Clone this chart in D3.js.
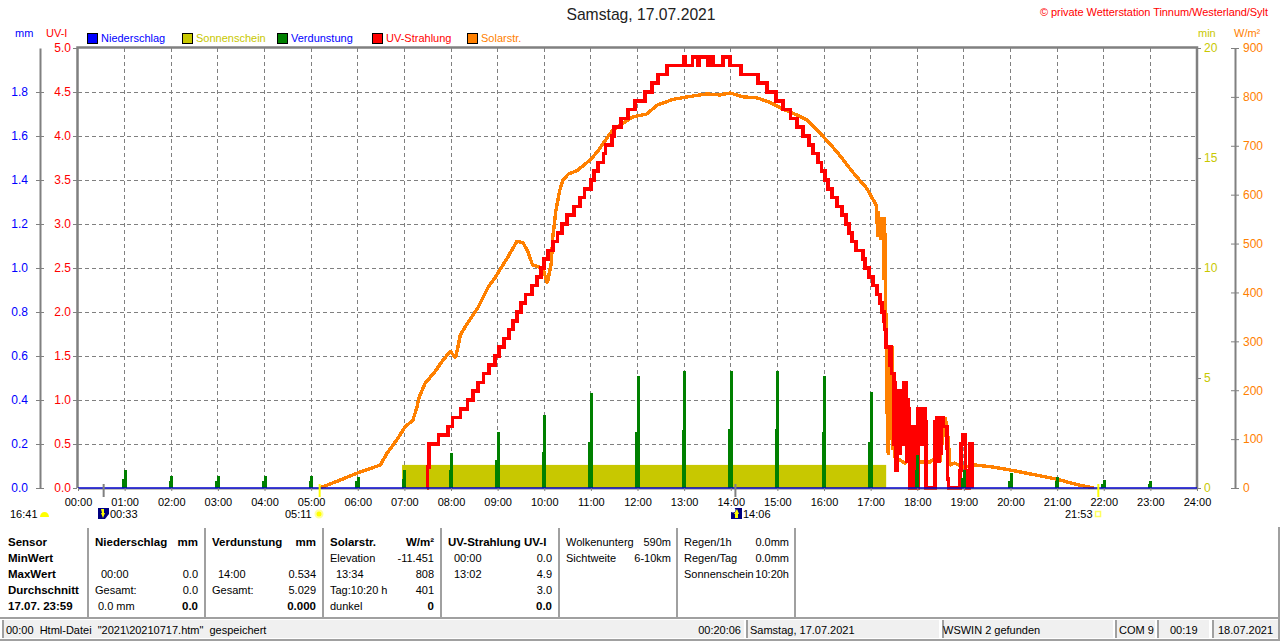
<!DOCTYPE html>
<html>
<head>
<meta charset="utf-8">
<script src="https://cdn.jsdelivr.net/npm/d3@7"></script>
<style>
    html, body { margin: 0; padding: 0; background: #fff; overflow: hidden; }
    svg { display: block; }
    text { font-family: "Liberation Sans", Arial, sans-serif; font-size: 11px; }
    .bold { font-weight: bold; font-size: 11.5px; }
    .domain { stroke-width: 2px; }
</style>
</head>
<body>
<div id="chart"></div>
<script>
// all times are minutes since midnight
const hourTicks = d3.range(0, 1441, 60);
const mmTicks = [0, 0.2, 0.4, 0.6, 0.8, 1.0, 1.2, 1.4, 1.6, 1.8];
const uvTicks = [0, 0.5, 1, 1.5, 2, 2.5, 3, 3.5, 4, 4.5, 5];
const minTicks = [0, 5, 10, 15, 20];
const solarTicks = [0, 100, 200, 300, 400, 500, 600, 700, 800, 900];

const solarTimes = [311, 337, 360, 389, 398, 410, 421, 431, 436, 439, 447, 459, 468, 479, 486, 492, 502, 515, 528, 537,
    553, 565, 573, 579, 585, 598, 604, 609, 611, 615, 620, 624, 631, 643, 659, 668, 688, 714, 732, 745,
    766, 784, 809, 826, 839, 856, 874, 890, 907, 925, 938, 955, 977, 997, 1015, 1027, 1028, 1029, 1030, 1031,
    1032, 1033, 1034, 1035, 1036, 1037, 1038, 1039, 1040, 1041, 1042, 1043, 1044, 1045, 1046, 1047, 1048, 1049, 1050, 1051,
    1053, 1058, 1064, 1077, 1083, 1096, 1103, 1109, 1116, 1120, 1122,
    1128, 1139, 1154, 1177, 1199, 1212, 1260, 1283, 1307];
const solarValues = [0, 16, 31, 47, 72, 98, 125, 139, 164, 186, 215, 237, 258, 280, 266, 313, 339, 370, 411, 431,
    472, 505, 501, 483, 456, 450, 419, 460, 513, 568, 609, 630, 642, 650, 671, 687, 732, 759, 765, 783,
    795, 800, 806, 804, 808, 800, 798, 789, 775, 763, 753, 726, 687, 646, 613, 579, 566, 513, 566, 513,
    554, 507, 554, 507, 554, 425, 554, 425, 303, 190, 80, 68, 288, 98, 288, 98, 290, 78, 150, 63,
    63, 57, 51, 63, 53, 53, 61, 53, 145, 98, 47,
    51, 43, 47, 43, 37, 33, 18, 8, 0];

const uvTimes = [449, 450, 452, 464, 476, 482, 492, 501, 508, 515, 522, 529, 537, 542, 548, 555, 560, 565, 570, 576, 584,
    591, 596, 600, 605, 611, 617, 623, 629, 638, 646, 652, 660, 664, 669, 676, 679, 687, 690, 699, 708,
    717, 730, 739, 746, 758, 780, 782, 791, 798, 800, 811, 813, 817, 830, 839, 853, 875, 887, 898, 907,
    917, 925, 933, 941, 946, 952, 957, 961, 965, 970, 977, 983, 988, 992, 996, 1001, 1010, 1013, 1018, 1023,
    1028, 1032, 1035, 1037, 1038, 1040, 1043, 1045, 1046, 1047, 1050, 1051, 1052, 1053, 1054, 1055, 1056, 1057, 1058, 1059,
    1060, 1061, 1062, 1063, 1064, 1065, 1066, 1067, 1068, 1069, 1070, 1072, 1073, 1076, 1081, 1082, 1083, 1084, 1085, 1086,
    1087, 1088, 1089, 1090, 1091, 1103, 1105, 1107, 1108, 1110, 1111, 1114, 1118, 1119, 1120, 1135, 1136, 1138, 1142, 1143,
    1147, 1151];
const uvValues = [0, 0.24, 0.5, 0.6, 0.7, 0.8, 0.9, 1.0, 1.1, 1.2, 1.3, 1.4, 1.5, 1.6, 1.7, 1.8, 1.9, 2.0, 2.1, 2.2, 2.3,
    2.4, 2.5, 2.6, 2.7, 2.8, 2.9, 3.0, 3.1, 3.2, 3.3, 3.4, 3.5, 3.6, 3.7, 3.8, 3.9, 4.0, 4.1, 4.2, 4.3,
    4.4, 4.5, 4.6, 4.7, 4.8, 4.9, 4.8, 4.9, 4.8, 4.9, 4.8, 4.9, 4.8, 4.9, 4.8, 4.7, 4.6, 4.5, 4.4, 4.3,
    4.2, 4.1, 4.0, 3.9, 3.8, 3.7, 3.6, 3.5, 3.4, 3.3, 3.2, 3.1, 3.0, 2.9, 2.8, 2.7, 2.6, 2.5, 2.4, 2.3,
    2.2, 2.1, 2.0, 1.9, 1.8, 1.6, 1.6, 1.4, 1.6, 1.3, 0.5, 1.2, 0.5, 0.2, 1.1, 0.6, 1.1, 0.4, 1.1, 0.6,
    1.1, 0.5, 1.1, 1.2, 0.7, 1.2, 0.3, 1.0, 0.9, 0.5, 0, 0.4, 0.7, 0, 0.9, 0.5, 0.9, 0.6, 0.9, 0.5,
    0.9, 0.6, 0.9, 0.75, 0, 0.75, 0.8, 0.3, 0.8, 0.4, 0.8, 0.7, 0.45, 0.1, 0, 0.2, 0.5, 0.6, 0.2, 0,
    0.5, 0];

const evapHours = d3.range(60, 1381, 60);
const evapTop = [0.082, 0.055, 0.055, 0.055, 0.055, 0.05, 0.08, 0.16, 0.255, 0.33, 0.43, 0.51, 0.534, 0.534, 0.53, 0.51, 0.435, 0.15, 0.08, 0.07, 0.05, 0.035, 0.03];
const evapLow = [0.04, 0.03, 0.03, 0.03, 0.03, 0.03, 0.04, 0.08, 0.127, 0.164, 0.21, 0.255, 0.265, 0.267, 0.267, 0.255, 0.21, 0.08, 0.045, 0.03, 0.03, 0.02, 0.02];

const sunshineFrom = 417;
const sunshineTo = 1040;
const sunshineMinutes = 1.05;

const legendNames = ["Niederschlag", "Sonnenschein", "Verdunstung", "UV-Strahlung", "Solarstr."];
const legendColors = ["#0000ff", "#c8c800", "#008000", "#ff0000", "#ff8000"];
const legendTextColors = ["#0000ff", "#c8c800", "#0000ff", "#ff0000", "#ff8000"];
const legendX = [87, 182, 277, 372, 467];

const gray = "#808080";
const width = 1280, height = 641;
const left = 78, right = 1197, top_ = 48, bottom = 488;

const x = d3.scaleLinear().domain([0, 1440]).range([left, right]);
const yUv = d3.scaleLinear().domain([0, 5]).range([bottom, top_]);
const yMm = d3.scaleLinear().domain([0, 2]).range([bottom, top_]);
const yMin = d3.scaleLinear().domain([0, 20]).range([bottom, top_]);
const ySolar = d3.scaleLinear().domain([0, 900]).range([bottom, top_]);

const svg = d3.select("#chart").append("svg").attr("width", width).attr("height", height);

function label(txt, px, py, color, anchor, cls) {
    return svg.append("text")
        .attr("x", px).attr("y", py)
        .attr("dy", "0.35em")
        .attr("fill", color || "#000")
        .attr("text-anchor", anchor || "start")
        .attr("class", cls || null)
        .text(txt);
}

// grid
svg.append("g").selectAll("line").data(hourTicks.slice(1, -1)).enter().append("line")
    .attr("x1", d => x(d)).attr("x2", d => x(d))
    .attr("y1", top_).attr("y2", bottom)
    .attr("stroke", gray).attr("stroke-dasharray", "4,3").attr("shape-rendering", "crispEdges");
svg.append("g").selectAll("line").data(uvTicks.slice(1, -1)).enter().append("line")
    .attr("x1", left).attr("x2", right)
    .attr("y1", d => yUv(d)).attr("y2", d => yUv(d))
    .attr("stroke", gray).attr("stroke-dasharray", "4,3").attr("shape-rendering", "crispEdges");

// sunshine block
svg.append("rect")
    .attr("x", x(sunshineFrom)).attr("width", x(sunshineTo) - x(sunshineFrom))
    .attr("y", yMin(sunshineMinutes)).attr("height", bottom - yMin(sunshineMinutes))
    .attr("fill", "#c8c800");

// solar
const solarLine = d3.line().x(d => x(d[0])).y(d => ySolar(d[1]));
svg.append("path")
    .attr("d", solarLine(d3.zip(solarTimes, solarValues)))
    .attr("fill", "none").attr("stroke", "#ff8000").attr("stroke-width", 3.4)
    .attr("stroke-linejoin", "bevel").attr("shape-rendering", "crispEdges");

// uv
const uvLine = d3.line().x(d => x(d[0])).y(d => yUv(d[1])).curve(d3.curveStepAfter);
svg.append("path")
    .attr("d", uvLine(d3.zip(uvTimes, uvValues)))
    .attr("fill", "none").attr("stroke", "#ff0000").attr("stroke-width", 3.6)
    .attr("shape-rendering", "crispEdges");

// evaporation, one spike per hour
const evap = svg.append("g").attr("fill", "#008000").attr("shape-rendering", "crispEdges");
evap.selectAll(".low").data(d3.zip(evapHours, evapLow)).enter().append("rect")
    .attr("x", d => x(d[0]) - 2.5).attr("width", 4)
    .attr("y", d => yMm(d[1])).attr("height", d => bottom - yMm(d[1]));
evap.selectAll(".top").data(d3.zip(evapHours, evapTop)).enter().append("rect")
    .attr("x", d => x(d[0]) - 1).attr("width", 3)
    .attr("y", d => yMm(d[1])).attr("height", d => bottom - yMm(d[1]));

// frame and baseline
svg.append("path")
    .attr("d", d3.line()([[left - 0.5, bottom], [left - 0.5, top_ - 0.5], [right, top_ - 0.5], [right, bottom]]))
    .attr("fill", "none").attr("stroke", gray).attr("stroke-width", 2.5);
svg.append("line").attr("x1", left).attr("x2", right).attr("y1", bottom + 1).attr("y2", bottom + 1)
    .attr("stroke", gray).attr("stroke-width", 1);
svg.append("line").attr("x1", left).attr("x2", right).attr("y1", bottom).attr("y2", bottom)
    .attr("stroke", "#0000c8").attr("stroke-width", 1.5);

// axes
function styleAxis(g, color, x1, x2) {
    g.selectAll("text").attr("fill", color).style("font-size", "12px");
    g.selectAll("line").attr("stroke", gray).attr("x1", x1).attr("x2", x2);
    g.selectAll(".domain").attr("stroke", gray);
}

const mmAxis = svg.append("g").attr("transform", "translate(40,0)")
    .call(d3.axisLeft(yMm).tickValues(mmTicks).tickSizeOuter(0).tickPadding(6).tickFormat(d3.format(".1f")));
styleAxis(mmAxis, "#0000ff", -4, 4);

const uvAxis = svg.append("g").attr("transform", `translate(${left - 1},0)`)
    .call(d3.axisLeft(yUv).tickValues(uvTicks).tickSize(4).tickPadding(2).tickFormat(d3.format(".1f")));
styleAxis(uvAxis, "#ff0000", -4, 0);
uvAxis.select(".domain").remove();

const minAxis = svg.append("g").attr("transform", `translate(${right + 1},0)`)
    .call(d3.axisRight(yMin).tickValues(minTicks).tickSize(3).tickPadding(3));
styleAxis(minAxis, "#c8c800", 0, 3);
minAxis.select(".domain").remove();

const solarAxis = svg.append("g").attr("transform", "translate(1235,0)")
    .call(d3.axisRight(ySolar).tickValues(solarTicks).tickSizeOuter(0).tickPadding(2));
styleAxis(solarAxis, "#ff8000", -4, 4);

const timeAxis = svg.append("g").attr("transform", `translate(0,${bottom})`)
    .call(d3.axisBottom(x).tickValues(hourTicks).tickSize(3).tickPadding(7)
        .tickFormat(d => d3.format("02d")(d / 60) + ":00"));
timeAxis.select(".domain").remove();
timeAxis.selectAll("line").attr("stroke", gray);
timeAxis.selectAll("text").attr("fill", "#000").style("font-size", "11px");

// axis headers, title
label("mm", 15, 33, "#0000ff");
label("UV-I", 46, 33, "#ff0000");
label("min", 1198, 33, "#c8c800");
label("W/m²", 1234, 33, "#ff8000");
label("Samstag, 17.07.2021", 641, 15, "#222", "middle").style("font-size", "15.7px");
label("© private Wetterstation Tinnum/Westerland/Sylt", 1040, 12, "#ff0000").attr("textLength", 228);

// legend
legendNames.forEach((name, i) => {
    svg.append("rect").attr("x", legendX[i] + 0.5).attr("y", 33.5).attr("width", 10).attr("height", 10)
        .attr("fill", legendColors[i]).attr("stroke", "#000");
    label(name, legendX[i] + 14, 38, legendTextColors[i]);
});

// sun and moon markers under the axis
const markerY0 = 484, markerY1 = 497;
[[33, gray], [846, gray], [311, "#ffff00"], [1313, "#ffff00"]].forEach(m => {
    svg.append("line").attr("x1", x(m[0])).attr("x2", x(m[0])).attr("y1", markerY0).attr("y2", markerY1)
        .attr("stroke", m[1]).attr("stroke-width", 2);
});
label("16:41", 10, 514);
svg.append("path").attr("d", "M40,517 a4.5,5 0 0 1 9,0 z").attr("fill", "#ffff00");
label("00:33", 110, 514);
svg.append("rect").attr("x", 98).attr("y", 508).attr("width", 11).attr("height", 11).attr("fill", "#000080");
svg.append("path").attr("d", "M105,519 h4 v-5 z").attr("fill", "#fff");
svg.append("path").attr("d", "M101,509 h3 v4 h1 l-2,5 l-2,-5 h1 z").attr("fill", "#ffff00");
label("05:11", 285, 514);
svg.append("circle").attr("cx", 319).attr("cy", 514).attr("r", 3.5).attr("fill", "#ffff00")
    .attr("stroke", "#ffffa0").attr("stroke-width", 2);
label("14:06", 743, 514);
svg.append("rect").attr("x", 731).attr("y", 508).attr("width", 11).attr("height", 11).attr("fill", "#000080");
svg.append("circle").attr("cx", 733).attr("cy", 510).attr("r", 2.5).attr("fill", "#fff");
svg.append("path").attr("d", "M737,509 l2,5 h-1 v4 h-3 v-4 h-1 z").attr("fill", "#ffff00");
label("21:53", 1065, 514);
svg.append("rect").attr("x", 1095.5).attr("y", 511.5).attr("width", 5).attr("height", 5)
    .attr("fill", "#fff").attr("stroke", "#ffff60").attr("stroke-width", 1.5);

// sensor table
const rowY = [542, 558, 574, 590, 606];
const sensorRows = ["Sensor", "MinWert", "MaxWert", "Durchschnitt", "17.07. 23:59"];
sensorRows.forEach((t, i) => label(t, 8, rowY[i], "#000", "start", "bold"));

const tableSeparators = [88, 205, 323, 441, 559, 677, 795];
svg.append("g").selectAll("line").data(tableSeparators).enter().append("line")
    .attr("x1", d => d).attr("x2", d => d).attr("y1", 528).attr("y2", 617)
    .attr("stroke", "#a0a0a0").attr("stroke-width", 2);

// [text, x, row, anchor, bold]
const tableCells = [
    ["Niederschlag", 95, 0, "start", 1], ["mm", 198, 0, "end", 1],
    ["00:00", 101, 2, "start"], ["0.0", 198, 2, "end"],
    ["Gesamt:", 95, 3, "start"], ["0.0", 198, 3, "end"],
    ["0.0 mm", 98, 4, "start"], ["0.0", 198, 4, "end", 1],
    ["Verdunstung", 212, 0, "start", 1], ["mm", 316, 0, "end", 1],
    ["14:00", 218, 2, "start"], ["0.534", 316, 2, "end"],
    ["Gesamt:", 212, 3, "start"], ["5.029", 316, 3, "end"],
    ["0.000", 316, 4, "end", 1],
    ["Solarstr.", 330, 0, "start", 1], ["W/m²", 434, 0, "end", 1],
    ["Elevation", 330, 1, "start"], ["-11.451", 434, 1, "end"],
    ["13:34", 336, 2, "start"], ["808", 434, 2, "end"],
    ["Tag:10:20 h", 330, 3, "start"], ["401", 434, 3, "end"],
    ["dunkel", 330, 4, "start"], ["0", 434, 4, "end", 1],
    ["UV-Strahlung UV-I", 448, 0, "start", 1],
    ["00:00", 454, 1, "start"], ["0.0", 552, 1, "end"],
    ["13:02", 454, 2, "start"], ["4.9", 552, 2, "end"],
    ["3.0", 552, 3, "end"], ["0.0", 552, 4, "end", 1],
    ["Wolkenunterg", 566, 0, "start"], ["590m", 671, 0, "end"],
    ["Sichtweite", 566, 1, "start"], ["6-10km", 671, 1, "end"],
    ["Regen/1h", 684, 0, "start"], ["0.0mm", 789, 0, "end"],
    ["Regen/Tag", 684, 1, "start"], ["0.0mm", 789, 1, "end"],
    ["Sonnenschein", 684, 2, "start"], ["10:20h", 789, 2, "end"]
];
tableCells.forEach(c => label(c[0], c[1], rowY[c[2]], "#000", c[3], c[4] ? "bold" : null));

// status bar
svg.append("rect").attr("x", 0).attr("y", 617).attr("width", width).attr("height", 2).attr("fill", "#a0a0a0");
svg.append("rect").attr("x", 0).attr("y", 639).attr("width", width).attr("height", 2).attr("fill", "#a0a0a0");
svg.append("rect").attr("x", 1278).attr("y", 527).attr("width", 2).attr("height", 114).attr("fill", "#a0a0a0");
const panelX = [2, 746, 942, 1115, 1157, 1212];
const panelEnd = [744, 939, 1113, 1155, 1209, 1278];
panelX.forEach((px, i) => {
    svg.append("rect").attr("x", px).attr("y", 620).attr("width", panelEnd[i] - px).attr("height", 18).attr("fill", "#f0f0f0");
    svg.append("rect").attr("x", px).attr("y", 620).attr("width", 2).attr("height", 18).attr("fill", "#a0a0a0");
});
label("00:00  Html-Datei  \"2021\\20210717.htm\"  gespeichert", 6, 630).attr("xml:space", "preserve").style("white-space", "pre");
label("00:20:06", 741, 630, "#000", "end");
label("Samstag, 17.07.2021", 750, 630);
label("WSWIN 2 gefunden", 943, 630);
label("COM 9", 1119, 630);
label("00:19", 1170, 630);
label("18.07.2021", 1218, 630);
</script>
</body>
</html>
